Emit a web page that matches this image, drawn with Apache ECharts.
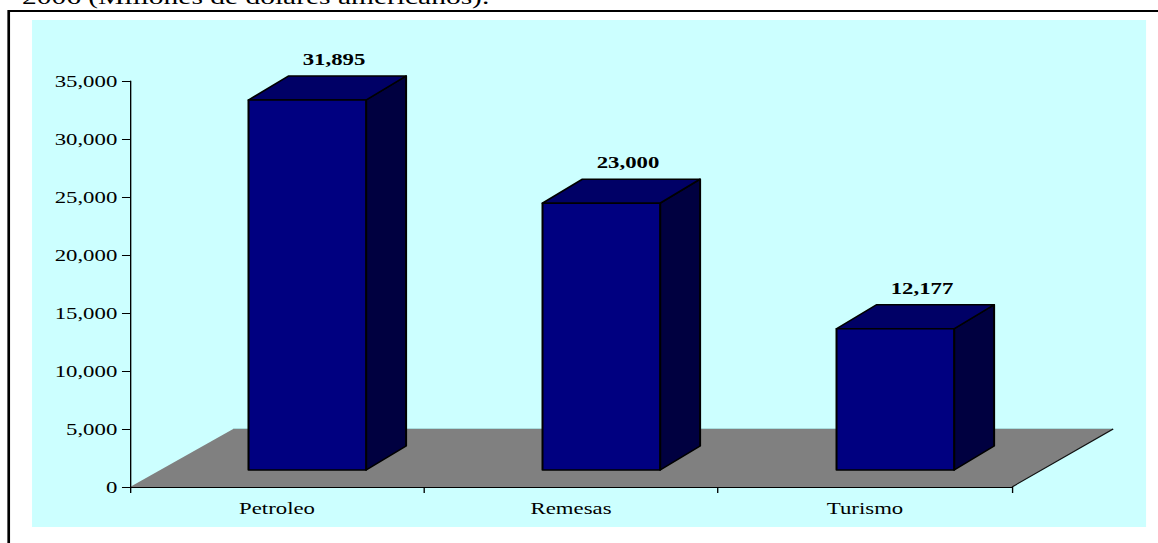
<!DOCTYPE html>
<html>
<head>
<meta charset="utf-8">
<script src="https://cdn.jsdelivr.net/npm/echarts@6/dist/echarts.min.js"></script>
<style>
  html, body { margin: 0; padding: 0; background: #ffffff; overflow: hidden; width: 1158px; height: 543px; }
  #chart { width: 864px; height: 543px; transform: scaleX(1.34028); transform-origin: 0 0; }
</style>
</head>
<body>
<div id="chart"></div>
<script>
const titleText = '2006 (Millones de dólares americanos).';
const categories = ['Petroleo', 'Remesas', 'Turismo'];
const values = [31895, 23000, 12177];
const yMin = 0;
const yMax = 35000;
const yInterval = 5000;

const serif = "'Liberation Serif', 'Times New Roman', serif";
const fmt = v => Number(v).toLocaleString('en-US');

const chart = echarts.init(document.getElementById('chart'), null, { renderer: 'svg' });

function renderFloor(params, api) {
  const cs = params.coordSys;
  const y0 = api.coord([0, 0])[1];
  const band = api.size([1, 0])[0];
  const dx = band * 0.344, dy = -58;
  const xl = cs.x, xr = cs.x + cs.width;
  return {
    type: 'group',
    children: [
      { type: 'polygon', shape: { points: [[xl, y0], [xr, y0], [xr + dx, y0 + dy], [xl + dx + 1.5, y0 + dy]] },
        style: { fill: '#808080', stroke: null } },
      { type: 'line', shape: { x1: xl + dx + 1.5, y1: y0 + dy - 0.5, x2: xr + dx, y2: y0 + dy - 0.5 },
        style: { stroke: '#a8dcdc', lineWidth: 1.2 } },
      { type: 'line', shape: { x1: xr, y1: y0, x2: xr + dx, y2: y0 + dy },
        style: { stroke: '#111111', lineWidth: 1 } }
    ]
  };
}

function renderBar(params, api) {
  const idx = api.value(0);
  const val = api.value(1);
  const base = api.coord([idx, 0]);
  const top = api.coord([idx, val]);
  const band = api.size([1, 0])[0];
  const w = band * 0.40;
  const fx = band * 0.103, fy = -17;
  const dx = band * 0.136, dy = -24;
  const x0 = base[0] + fx - w / 2, x1 = x0 + w;
  const yb = base[1] + fy, yt = top[1] + fy;
  const st = { stroke: '#000000', lineWidth: 1.5, lineJoin: 'round' };
  return {
    type: 'group',
    children: [
      { type: 'polygon', shape: { points: [[x1, yt], [x1 + dx, yt + dy], [x1 + dx, yb + dy], [x1, yb]] },
        style: Object.assign({ fill: '#000040' }, st) },
      { type: 'polygon', shape: { points: [[x0, yt], [x0 + dx, yt + dy], [x1 + dx, yt + dy], [x1, yt]] },
        style: Object.assign({ fill: '#000066' }, st) },
      { type: 'rect', shape: { x: x0, y: yt, width: w, height: yb - yt },
        style: Object.assign({ fill: '#000080' }, st) },
      { type: 'text', x: (x0 + x1 + dx) / 2 + 5, y: yt + dy - 17,
        style: { text: fmt(val), fill: '#000000', font: "bold 17px " + serif, align: 'center', verticalAlign: 'middle' } }
    ]
  };
}

const option = {
  backgroundColor: '#ffffff',
  animation: false,
  graphic: {
    elements: [
      { type: 'rect', z: -20, shape: { x: 6.5, y: 11, width: 1000, height: 700 },
        style: { fill: '#ffffff', stroke: '#000000', lineWidth: 2 } },
      { type: 'rect', z: -19, shape: { x: 23.9, y: 20, width: 831.2, height: 507 },
        style: { fill: '#ccffff', stroke: null } },
      { type: 'text', z: -18, x: 16.4, y: -3.4,
        style: { text: titleText, fill: '#000000', font: "22px " + serif, align: 'left', verticalAlign: 'middle' } }
    ]
  },
  grid: { left: 97, right: 108.9, top: 81, bottom: 56, containLabel: false },
  xAxis: {
    type: 'category',
    data: categories,
    z: 5,
    boundaryGap: true,
    axisLine: { show: true, lineStyle: { color: '#000000', width: 1.2 } },
    axisTick: { show: true, alignWithLabel: false, length: 6, lineStyle: { color: '#000000', width: 1 } },
    axisLabel: { color: '#000000', fontFamily: serif, fontSize: 17, margin: 13 },
    splitLine: { show: false }
  },
  yAxis: {
    type: 'value',
    min: yMin,
    max: yMax,
    interval: yInterval,
    z: 5,
    axisLine: { show: true, lineStyle: { color: '#000000', width: 1 } },
    axisTick: { show: true, length: 6, lineStyle: { color: '#000000', width: 1 } },
    axisLabel: { color: '#000000', fontFamily: serif, fontSize: 17, margin: 9.5, formatter: v => fmt(v) },
    splitLine: { show: false }
  },
  series: [
    {
      type: 'custom',
      name: 'floor',
      z: 1,
      silent: true,
      renderItem: renderFloor,
      data: [[0, 0]]
    },
    {
      type: 'custom',
      name: 'valores',
      z: 3,
      renderItem: renderBar,
      encode: { x: 0, y: 1 },
      data: values.map((v, i) => [i, v])
    }
  ]
};

chart.setOption(option);
</script>
</body>
</html>
